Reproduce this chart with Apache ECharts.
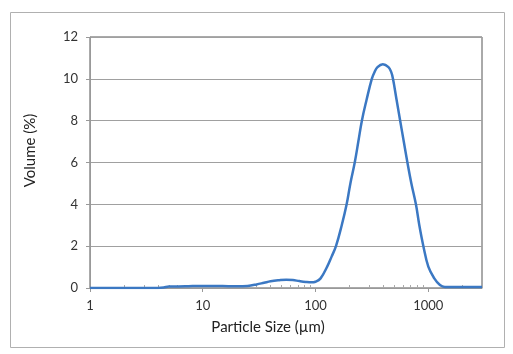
<!DOCTYPE html>
<html>
<head>
<meta charset="utf-8">
<title>Particle Size</title>
<script src="https://cdn.jsdelivr.net/npm/echarts@6/dist/echarts.min.js"></script>
<style>
  html, body { margin: 0; padding: 0; background: #fff; }
  #main { width: 513px; height: 354px; }
</style>
</head>
<body>
<div id="main"></div>
<script type="text/javascript">
// particle size (um) and volume (%)
var sizes = [1, 2, 3, 4, 4.5, 5, 7, 10, 15, 20, 25, 30, 35, 40, 47, 55, 63, 72, 82, 92, 100,
             111, 127, 139, 152, 171, 189, 204, 223, 240, 258, 284, 316, 334, 355, 396,
             444, 470, 487, 524, 564, 607, 654, 709, 778, 834, 906, 1002, 1132, 1271, 1406,
             1700, 2000, 3000];
var volumes = [0, 0, 0, 0, 0.02, 0.07, 0.08, 0.1, 0.09, 0.08, 0.1, 0.17, 0.25, 0.32, 0.37, 0.4,
               0.38, 0.33, 0.29, 0.27, 0.3,
               0.46, 1.02, 1.5, 2.0, 3.0, 4.0, 5.0, 6.0, 7.0, 8.0, 9.0, 10.0, 10.32, 10.56, 10.7,
               10.56, 10.32, 10.0, 9.0, 8.0, 7.0, 6.0, 5.0, 4.0, 3.0, 2.0, 1.02, 0.46, 0.14, 0.05,
               0.05, 0.05, 0.05];
var majorTicks = [1, 10, 100, 1000];
var minorTicks = [2, 3, 4, 5, 6, 7, 8, 9, 20, 30, 40, 50, 60, 70, 80, 90,
                  200, 300, 400, 500, 600, 700, 800, 900, 2000];

var points = [];
for (var i = 0; i < sizes.length; i++) {
    points.push([sizes[i], volumes[i]]);
}

var myChart = echarts.init(document.getElementById('main'));

var font = 'Lato, "Open Sans", sans-serif';

var option = {
    animation: false,
    graphic: [{
        type: 'rect',
        shape: { x: 10.5, y: 12.5, width: 494, height: 335 },
        style: { fill: 'none', stroke: '#b0b0b0', lineWidth: 1 },
        z: -1
    }],
    grid: {
        left: 90, top: 37, right: 31, bottom: 66,
        show: true, borderColor: '#555', borderWidth: 1
    },
    xAxis: [{
        type: 'log',
        logBase: 10,
        min: 1,
        max: 3000,
        name: 'Particle Size (\u00b5m)',
        nameLocation: 'middle',
        nameGap: 32,
        nameTextStyle: { fontFamily: font, fontSize: 15, color: '#222', padding: [0, 36, 0, 0] },
        axisLine: { show: true, lineStyle: { color: '#999', width: 1 } },
        axisTick: { show: true, length: 4, customValues: majorTicks, lineStyle: { color: '#999' } },
        axisLabel: {
            customValues: majorTicks, margin: 11, fontFamily: font, fontSize: 13, color: '#333',
            formatter: function (v) { return String(Math.round(v)); }
        },
        splitLine: { show: false }
    }, {
        type: 'log',
        logBase: 10,
        min: 1,
        max: 3000,
        position: 'bottom',
        axisLine: { show: false },
        axisTick: { show: true, inside: true, length: 3, customValues: minorTicks, lineStyle: { color: '#aaa' } },
        axisLabel: { show: false },
        splitLine: { show: false }
    }],
    yAxis: {
        type: 'value',
        min: 0,
        max: 12,
        interval: 2,
        name: 'Volume (%)',
        nameLocation: 'middle',
        nameGap: 52,
        nameTextStyle: { fontFamily: font, fontSize: 15, color: '#222', padding: [0, 0, 0, 24] },
        axisLine: { show: true, lineStyle: { color: '#999', width: 1 } },
        axisTick: { show: true, length: 4, lineStyle: { color: '#999' } },
        axisLabel: { margin: 12, fontFamily: font, fontSize: 13, color: '#333' },
        splitLine: { show: true, lineStyle: { color: '#a0a0a0', width: 1 } }
    },
    series: [{
        name: 'Volume',
        type: 'line',
        xAxisIndex: 0,
        data: points,
        smooth: 0.4,
        showSymbol: false,
        lineStyle: { color: '#3b78c3', width: 2.5 },
        itemStyle: { color: '#3b78c3' }
    }]
};

myChart.setOption(option);
</script>
</body>
</html>
